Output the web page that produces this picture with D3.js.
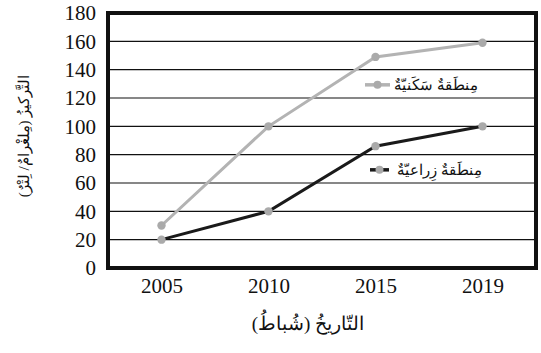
<!DOCTYPE html>
<html lang="ar">
<head>
<meta charset="utf-8">
<title>التركيز</title>
<script src="https://d3js.org/d3.v7.min.js"></script>
<style>
  body { margin: 0; background: #fff; }
  text { font-family: "Liberation Serif", "DejaVu Serif", serif; }
</style>
</head>
<body>
<script>
// dados
var anos = ["2005", "2010", "2015", "2019"];
var sakani = [30, 100, 149, 159];   // منطقة سكنية
var ziraai = [20, 40, 86, 100];     // منطقة زراعية
var yTicks = [0, 20, 40, 60, 80, 100, 120, 140, 160, 180];
var nomes = ["مِنطَقةٌ سَكَنيّةٌ", "مِنطَقةٌ زِراعيّةٌ"];
var tituloX = "التّاريخُ (شُباطُ)";
var tituloY = "التَّركيزُ (مِلغْرامٌ/ لِتْرٌ)";

var W = 541, H = 353;
var esq = 108, dir = 536, topo = 13, base = 268;

var svg = d3.select("body").append("svg")
  .attr("width", W)
  .attr("height", H);

var x = d3.scalePoint().domain(anos).range([esq, dir]).padding(0.5);
var y = d3.scaleLinear().domain([0, 180]).range([base, topo]);

// grade
svg.append("g").selectAll("line")
  .data(yTicks.slice(1, -1))
  .enter().append("line")
  .attr("x1", esq).attr("x2", dir)
  .attr("y1", function(d){ return y(d); })
  .attr("y2", function(d){ return y(d); })
  .attr("stroke", "#111").attr("stroke-width", 1.2);

// eixo Y
var eixoY = svg.append("g")
  .attr("transform", "translate(" + (esq - 12) + ",0)")
  .call(d3.axisLeft(y).tickValues(yTicks).tickSize(0).tickPadding(0));
eixoY.select(".domain").remove();
eixoY.selectAll("text")
  .attr("font-size", 21).attr("fill", "#111")
  .attr("font-family", "Liberation Serif");

// eixo X
var eixoX = svg.append("g")
  .attr("transform", "translate(0," + (base + 7) + ")")
  .call(d3.axisBottom(x).tickSize(0).tickPadding(0));
eixoX.select(".domain").remove();
eixoX.selectAll("text")
  .attr("font-size", 21).attr("fill", "#111")
  .attr("dy", "0.85em")
  .attr("font-family", "Liberation Serif");

var linha = d3.line()
  .x(function(d, i){ return x(anos[i]); })
  .y(function(d){ return y(d); });

function serie(vals, cor) {
  svg.append("path")
    .datum(vals)
    .attr("d", linha)
    .attr("fill", "none")
    .attr("stroke", cor)
    .attr("stroke-width", 3);
  svg.append("g").selectAll("circle")
    .data(vals)
    .enter().append("circle")
    .attr("cx", function(d, i){ return x(anos[i]); })
    .attr("cy", function(d){ return y(d); })
    .attr("r", 4.2)
    .attr("fill", "#aaaaaa");
}
serie(sakani, "#b3b3b3");
serie(ziraai, "#1a1a1a");

// legenda
var legs = [
  { nome: nomes[0], cor: "#b3b3b3", v: 130, x0: 365, x1: 390, tx: 394 },
  { nome: nomes[1], cor: "#1a1a1a", v: 70, x0: 370, x1: 389, tx: 397 }
];
legs.forEach(function(l) {
  svg.append("line")
    .attr("x1", l.x0).attr("x2", l.x1)
    .attr("y1", y(l.v) + 1).attr("y2", y(l.v) + 1)
    .attr("stroke", l.cor).attr("stroke-width", 3.5);
  svg.append("circle")
    .attr("cx", (l.x0 + l.x1) / 2).attr("cy", y(l.v) + 1)
    .attr("r", 4).attr("fill", "#aaaaaa");
  svg.append("text")
    .attr("x", l.tx).attr("y", y(l.v) + 6)
    .attr("text-anchor", "start")
    .attr("font-size", 15)
    .attr("fill", "#111")
    .text(l.nome);
});

// moldura
svg.append("rect")
  .attr("x", esq).attr("y", topo)
  .attr("width", dir - esq).attr("height", base - topo)
  .attr("fill", "none")
  .attr("stroke", "#111").attr("stroke-width", 4);

// titulos
svg.append("text")
  .attr("x", 308).attr("y", 330)
  .attr("text-anchor", "middle")
  .attr("font-size", 19).attr("fill", "#111")
  .text(tituloX);

svg.append("text")
  .attr("transform", "translate(29,136) rotate(-90)")
  .attr("text-anchor", "middle")
  .attr("font-size", 15).attr("fill", "#111")
  .text(tituloY);
</script>
</body>
</html>
